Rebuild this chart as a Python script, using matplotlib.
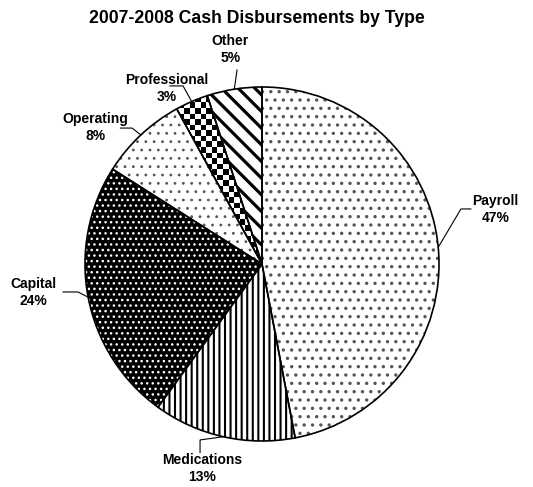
import matplotlib
matplotlib.use('Agg')
import matplotlib.pyplot as plt
import numpy as np

plt.rcParams['font.family'] = ['Liberation Sans', 'DejaVu Sans']

categories = ['Payroll', 'Medications', 'Capital', 'Operating', 'Professional', 'Other']
shares = [47, 13, 24, 8, 3, 5]

# label layout (in pie radii): text centre, elbow, line end
label_pos = [(1.32, 0.31), (-0.34, -1.155), (-1.29, -0.16),
             (-0.94, 0.77), (-0.54, 0.99), (-0.18, 1.21)]
elbows = [(1.124, 0.311), (-0.35, -0.994), (-1.04, -0.158),
          (-0.734, 0.768), (-0.446, 1.006), (-0.141, 1.096)]
line_ends = [(1.18, 0.311), (-0.35, -1.065), (-1.124, -0.158),
             (-0.80, 0.768), (-0.52, 1.006), (-0.141, 1.096)]

faces = ['white', 'white', 'black', 'white', 'none', 'white']
hatch_colors = ['#555555', 'black', 'white', '#555555', 'black', 'black']
hatches = ['..', '|||', '...', '..', None, '\\\\']
hatch_lw = [1.2, 1.5, 1.0, 0.8, 1.0, 2.3]

fig = plt.figure(figsize=(5.33, 4.87), dpi=100)
ax = fig.add_axes([0, 0, 1, 1])

# fill with hatch first, then outline
wedges, _ = ax.pie(shares, startangle=90, counterclock=False,
                   wedgeprops=dict(linewidth=0))
for w, fc, hc, h, lw in zip(wedges, faces, hatch_colors, hatches, hatch_lw):
    w.set_facecolor(fc)
    w.set_edgecolor(hc)
    if h:
        w.set_hatch(h)
    if hasattr(w, 'set_hatch_linewidth'):
        w.set_hatch_linewidth(lw)
    else:
        w._hatch_linewidth = lw

# checkerboard for "Professional", clipped to its wedge
cell = 5.5 / 177
n = int(2.2 / cell)
checker = (np.add.outer(np.arange(n), np.arange(n)) % 2).astype(float)
img = ax.imshow(checker, cmap='gray', extent=(-1.1, 1.1, -1.1, 1.1),
                interpolation='nearest', zorder=1)
img.set_clip_path(wedges[4])

ax.pie(shares, startangle=90, counterclock=False,
       wedgeprops=dict(fill=False, edgecolor='black', linewidth=1.2))

for w, name, val, (tx, ty), el, en in zip(wedges, categories, shares,
                                           label_pos, elbows, line_ends):
    mid = np.deg2rad((w.theta1 + w.theta2) / 2)
    px, py = np.cos(mid), np.sin(mid)
    ax.plot([px, el[0], en[0]], [py, el[1], en[1]], color='black', lw=0.8,
            solid_joinstyle='miter')
    ax.text(tx, ty, f'{name}\n{val}%', ha='center', va='center',
            fontsize=10, fontweight='bold', linespacing=1.25)

ax.set_aspect('equal')
ax.set_xlim(-262 / 177, 271 / 177)
ax.set_ylim(-223 / 177, 264 / 177)
ax.axis('off')

fig.text(0.482, 0.963, '2007-2008 Cash Disbursements by Type', ha='center',
         va='center', fontsize=12.7, fontweight='bold')

fig.savefig('out.png', dpi=100)
